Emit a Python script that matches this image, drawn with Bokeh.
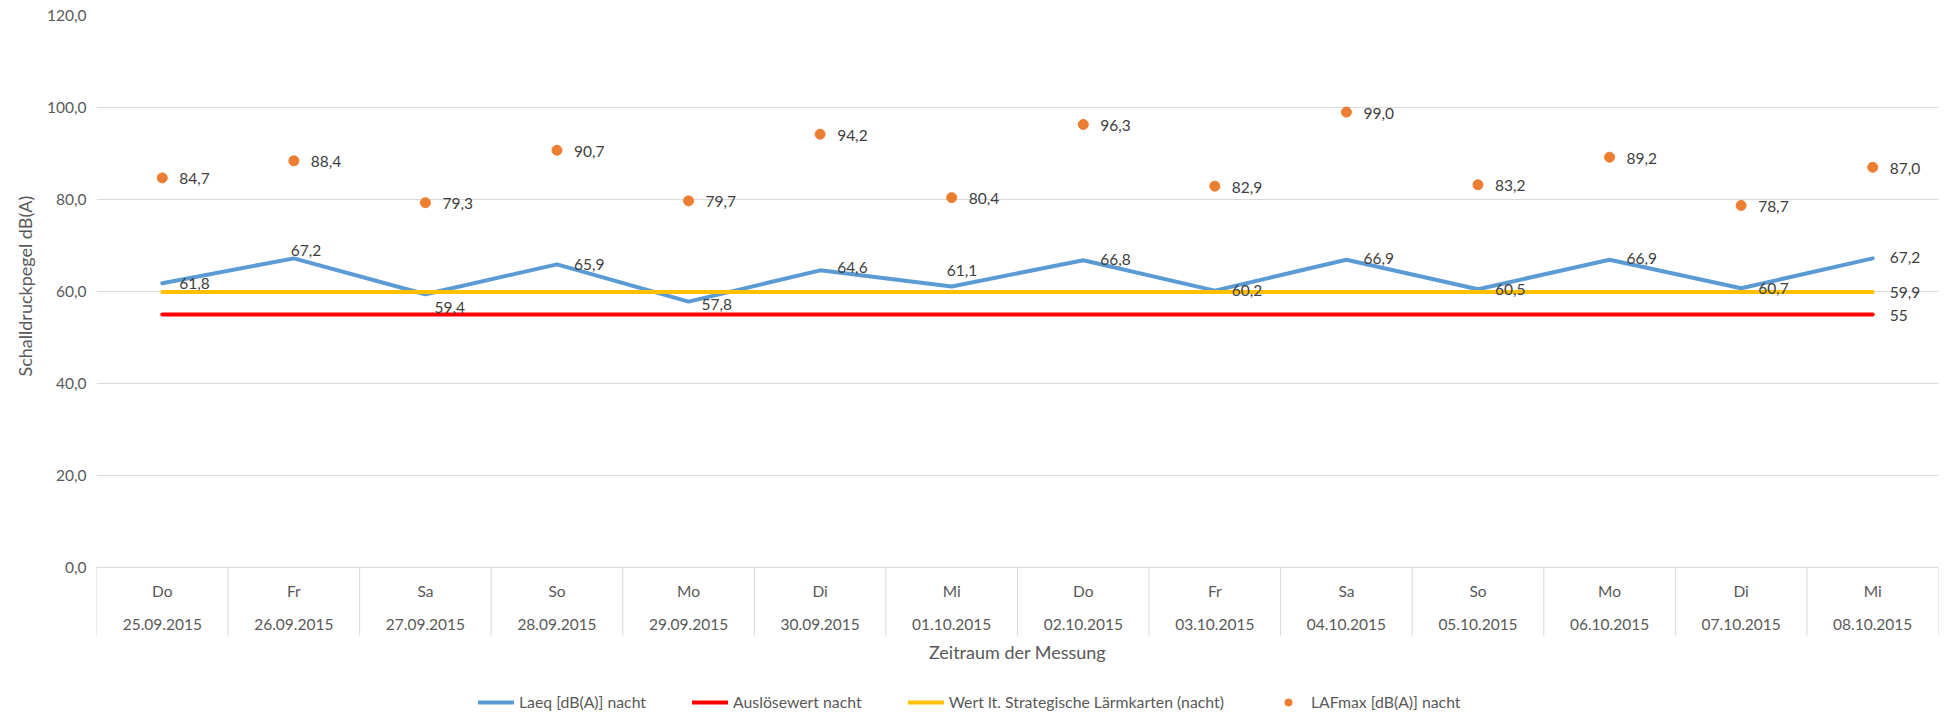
from bokeh.plotting import figure
from bokeh.models import (Range1d, FixedTicker, ColumnDataSource,
                          LabelSet, Label, Legend, LegendItem, Title)
from bokeh.embed import file_html
from bokeh.resources import INLINE
from bokeh.core.properties import value

# ---------------- data ----------------
days = ["Do", "Fr", "Sa", "So", "Mo", "Di", "Mi", "Do", "Fr", "Sa", "So", "Mo", "Di", "Mi"]
dates = ["25.09.2015", "26.09.2015", "27.09.2015", "28.09.2015", "29.09.2015",
         "30.09.2015", "01.10.2015", "02.10.2015", "03.10.2015", "04.10.2015",
         "05.10.2015", "06.10.2015", "07.10.2015", "08.10.2015"]
laeq = [61.8, 67.2, 59.4, 65.9, 57.8, 64.6, 61.1, 66.8, 60.2, 66.9, 60.5, 66.9, 60.7, 67.2]
ausloesewert = [55, 55, 55, 55, 55, 55, 55, 55, 55, 55, 55, 55, 55, 55]
wert_laermkarten = [59.9, 59.9, 59.9, 59.9, 59.9, 59.9, 59.9, 59.9, 59.9, 59.9, 59.9, 59.9, 59.9, 59.9]
lafmax = [84.7, 88.4, 79.3, 90.7, 79.7, 94.2, 80.4, 96.3, 82.9, 99.0, 83.2, 89.2, 78.7, 87.0]
y_ticks = [0, 20, 40, 60, 80, 100, 120]
y_tick_labels = ["0,0", "20,0", "40,0", "60,0", "80,0", "100,0", "120,0"]

series_names = ["Laeq [dB(A)] nacht", "Auslösewert nacht",
                "Wert lt. Strategische Lärmkarten (nacht)", "LAFmax [dB(A)] nacht"]
x_title = "Zeitraum der Messung"
y_title = "Schalldruckpegel dB(A)"

# label placement (style) for the Laeq data labels, screen px
laeq_label_dx = [17, -3, 9, 17, 13, 17, -5, 17, 17, 17, 17, 17, 17, 17]
laeq_label_dy = [0, 8, -13, 0, -3, 3, 16, 1, 0, 1, 0, 1, 0, 1]

# ---------------- styling ----------------
FONT = "Lato"
AX_COL = "#595959"
LBL_COL = "#404040"
GRID = "#D9D9D9"
C_BLUE = "#5B9BD5"
C_RED = "#FF0000"
C_YEL = "#FFC000"
C_ORA = "#ED7D31"
FS = "15.5px"
TITLE_FS = "18px"

W, H = 1954, 719
TOP, LEFT, RIGHT = 15, 96, 16
ZERO_PX = 567          # px of the 0 line
CAT_DEPTH = 68         # depth of the category box below the 0 line
px_per_unit = (ZERO_PX - TOP) / 120.0
y_bottom = -(H - ZERO_PX) / px_per_unit
sep_bottom = -CAT_DEPTH / px_per_unit
Y_TITLE_START = 376    # px where the rotated y title begins (bottom end)


def de(v):
    return f"{v:.1f}".replace(".", ",")


def de_general(v):
    return str(int(v)) if float(v).is_integer() else de(v)


n = len(days)
xs = [i + 0.5 for i in range(n)]
bounds = list(range(n + 1))

p = figure(width=W, height=H, x_range=Range1d(0, n), y_range=Range1d(y_bottom, 120),
           output_backend="svg", toolbar_location=None, x_axis_location=None,
           min_border_left=LEFT, min_border_right=RIGHT,
           min_border_top=TOP, min_border_bottom=0)
p.outline_line_color = None
p.background_fill_color = "white"
p.border_fill_color = "white"

# grid
p.xgrid.visible = False
p.ygrid.ticker = FixedTicker(ticks=y_ticks)
p.ygrid.grid_line_color = GRID
p.ygrid.grid_line_width = 1

# y axis
ya = p.yaxis[0]
ya.ticker = FixedTicker(ticks=y_ticks)
ya.major_label_overrides = dict(zip(y_ticks, y_tick_labels))
ya.axis_line_color = None
ya.major_tick_line_color = None
ya.minor_tick_line_color = None
ya.major_tick_out = 0
ya.major_tick_in = 0
ya.minor_tick_out = 0
ya.minor_tick_in = 0
ya.major_label_standoff = 10
ya.major_label_text_font = FONT
ya.major_label_text_font_size = FS
ya.major_label_text_color = AX_COL

ytitle = Title(text=y_title, align="left", offset=H - Y_TITLE_START,
               text_font=FONT, text_font_size=TITLE_FS, text_font_style="normal",
               text_color=AX_COL, standoff=18)
p.add_layout(ytitle, "left")

# category box below the 0 line (two-level category axis)
cat_src = ColumnDataSource(dict(x=xs, y=[0] * n, day=days, date=dates))
sep_src = ColumnDataSource(dict(x=bounds, y0=[0] * (n + 1), y1=[sep_bottom] * (n + 1)))
p.segment(x0="x", y0="y0", x1="x", y1="y1", source=sep_src, line_color=GRID, line_width=1)
p.add_layout(LabelSet(x="x", y="y", text="day", source=cat_src, y_offset=-23,
                      text_align="center", text_baseline="middle",
                      text_font=value(FONT), text_font_size=FS, text_color=AX_COL))
p.add_layout(LabelSet(x="x", y="y", text="date", source=cat_src, y_offset=-57,
                      text_align="center", text_baseline="middle",
                      text_font=value(FONT), text_font_size=FS, text_color=AX_COL))
p.add_layout(Label(x=n / 2.0, y=0, y_offset=-84, text=x_title,
                   text_align="center", text_baseline="middle",
                   text_font=FONT, text_font_size=TITLE_FS, text_color=AX_COL))

# ---------------- series ----------------
src = ColumnDataSource(dict(
    x=xs, laeq=laeq, aus=ausloesewert, wert=wert_laermkarten, lafmax=lafmax,
    laeq_txt=[de(v) for v in laeq], lafmax_txt=[de(v) for v in lafmax],
    dx=laeq_label_dx, dy=laeq_label_dy,
))

r_blue = p.line("x", "laeq", source=src, line_color=C_BLUE, line_width=4,
                line_join="round", line_cap="round")
r_red = p.line("x", "aus", source=src, line_color=C_RED, line_width=4,
               line_join="round", line_cap="round")
r_yel = p.line("x", "wert", source=src, line_color=C_YEL, line_width=4,
               line_join="round", line_cap="round")
r_ora = p.scatter("x", "lafmax", source=src, size=10, marker="circle",
                  fill_color=C_ORA, line_color=C_ORA)

# data labels
p.add_layout(LabelSet(x="x", y="laeq", text="laeq_txt", source=src,
                      x_offset="dx", y_offset="dy",
                      text_align="left", text_baseline="middle",
                      text_font=value(FONT), text_font_size=FS, text_color=LBL_COL))
p.add_layout(LabelSet(x="x", y="lafmax", text="lafmax_txt", source=src,
                      x_offset=17, y_offset=-1,
                      text_align="left", text_baseline="middle",
                      text_font=value(FONT), text_font_size=FS, text_color=LBL_COL))
end_src = ColumnDataSource(dict(
    x=[xs[-1], xs[-1]],
    y=[ausloesewert[-1], wert_laermkarten[-1]],
    t=[de_general(ausloesewert[-1]), de_general(wert_laermkarten[-1])],
))
p.add_layout(LabelSet(x="x", y="y", text="t", source=end_src,
                      x_offset=17, y_offset=-1,
                      text_align="left", text_baseline="middle",
                      text_font=value(FONT), text_font_size=FS, text_color=LBL_COL))

# legend (inside the extended frame, below the category box)
legend = Legend(items=[
    LegendItem(label=series_names[0], renderers=[r_blue]),
    LegendItem(label=series_names[1], renderers=[r_red]),
    LegendItem(label=series_names[2], renderers=[r_yel]),
    LegendItem(label=series_names[3], renderers=[r_ora]),
], orientation="horizontal", location=(382, 8))
legend.glyph_width = 36
legend.glyph_height = 18
legend.label_height = 18
legend.label_standoff = 5
legend.spacing = 46
legend.padding = 0
legend.margin = 0
legend.border_line_color = None
legend.background_fill_alpha = 0
legend.label_text_font = FONT
legend.label_text_font_size = "15.8px"
legend.label_text_color = AX_COL
p.add_layout(legend, "center")

open("out.html", "w").write(file_html(p, INLINE))
